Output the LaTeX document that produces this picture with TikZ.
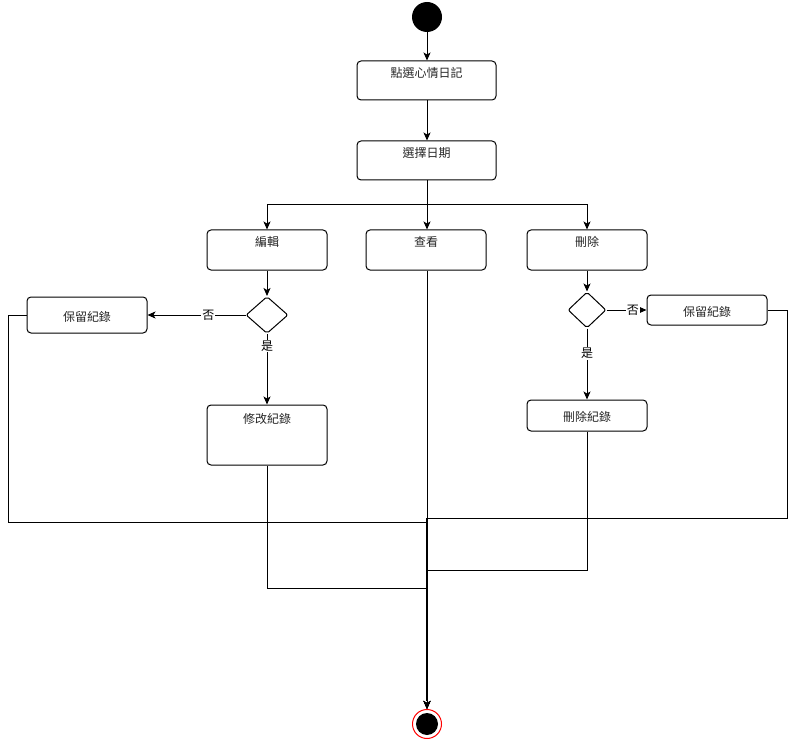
\documentclass[tikz,border=0pt]{standalone}
\usepackage{fontspec}
\newfontfamily\cjk{Noto Sans CJK TC}
\usetikzlibrary{arrows.meta,shapes.geometric}
\begin{document}
\begin{tikzpicture}[x=1pt,y=-1pt,
  every node/.style={inner sep=0pt},
  act/.style={draw,line width=1pt,rounded corners=4pt,fill=white,minimum width=120pt},
  txt/.style={font=\cjk\fontsize{12}{14}\selectfont,text=black!85},
  lab/.style={font=\cjk\fontsize{12}{14}\selectfont,fill=white,inner sep=1pt},
  dec/.style={draw,line width=1pt,diamond,rounded corners=2pt,fill=white},
  flow/.style={line width=1pt,-{Stealth[length=8pt,width=7pt,inset=2pt]}},
  plain/.style={line width=1pt}]
\useasboundingbox[fill=white] (0,0) rectangle (796,741);
% nodes
\node[circle,fill=black,minimum size=30pt] (start) at (427,17) {};
\node[act,minimum width=139pt,minimum height=39pt] (b1) at (426.5,80.5) {};
\node[txt] (t1) at ([yshift=-12pt]b1.north) {點選心情日記};
\node[act,minimum width=139pt,minimum height=39pt] (b2) at (426.5,160.5) {};
\node[txt] (t2) at ([yshift=-12pt]b2.north) {選擇日期};
\node[act,minimum height=40pt] (edit) at (267,250) {};
\node[txt] (t3) at ([yshift=-12pt]edit.north) {編輯};
\node[act,minimum height=40pt] (view) at (426,250) {};
\node[txt] (t4) at ([yshift=-12pt]view.north) {查看};
\node[act,minimum height=40pt] (del) at (587,250) {};
\node[txt] (t5) at ([yshift=-12pt]del.north) {刪除};
\node[dec,minimum width=42pt,minimum height=37pt] (d1) at (267,315) {};
\node[act,minimum height=36pt] (keepL) at (87,315) {};
\node[txt] (t6) at ([yshift=-2pt]keepL.center) {保留紀錄};
\node[act,minimum height=60pt] (modify) at (267,435) {};
\node[txt] (t7) at ([yshift=-14pt]modify.north) {修改紀錄};
\node[dec,minimum width=38pt,minimum height=36pt] (d2) at (587,310) {};
\node[act,minimum height=30pt] (keepR) at (707,310) {};
\node[txt] (t8) at ([yshift=-2pt]keepR.center) {保留紀錄};
\node[act,minimum height=31pt] (delrec) at (587,415.5) {};
\node[txt] (t9) at ([yshift=-1pt]delrec.center) {刪除紀錄};
\node[circle,draw=red,line width=1pt,fill=white,minimum size=29pt] (end) at (427,724) {};
\fill[black] (end.center) circle (11);
% coordinates
\coordinate (fork) at (427,205);
\coordinate (cL) at (8,315);
\coordinate (cL2) at (8,522);
\coordinate (mL) at (427,522);
\coordinate (cM) at (267,588);
\coordinate (mM) at (427,588);
\coordinate (cD) at (587,570);
\coordinate (mD) at (427,570);
\coordinate (cR) at (787,310);
\coordinate (cR2) at (787,518);
\coordinate (mR) at (427,518);
% connectors
\draw[flow] (start) -- (b1.north -| start);
\draw[flow] (b1.south -| start) -- (b2.north -| start);
\draw[plain] (b2.south -| start) -- (fork);
\draw[flow] (fork) -| (edit.north);
\draw[flow] (fork) -- (view.north -| fork);
\draw[flow] (fork) -| (del.north);
\draw[flow] (edit.south) -- (d1.north);
\draw[flow] (d1.west) -- node[lab,pos=0.38] (no1) {否} (keepL.east);
\draw[flow] (d1.south) -- node[lab,pos=0.17] (yes1) {是} (modify.north);
\draw[flow] (del.south) -- (d2.north);
\draw[flow] (d2.east) -- node[lab,pos=0.66] (no2) {否} (keepR.west);
\draw[flow] (d2.south) -- node[lab,pos=0.35] (yes2) {是} (delrec.north);
\draw[flow] (view.south -| fork) -- (end.north);
\draw[flow] (keepL.west) -- (cL) -- (cL2) -- (mL) -- (end.north);
\draw[flow] (modify.south) -- (cM) -- (mM) -- (end.north);
\draw[flow] (delrec.south) -- (cD) -- (mD) -- (end.north);
\draw[flow] (keepR.east) -- (cR) -- (cR2) -- (mR) -- (end.north);
\draw[line width=2pt] (mR) -- ([yshift=8pt]end.north);
\end{tikzpicture}
\end{document}
